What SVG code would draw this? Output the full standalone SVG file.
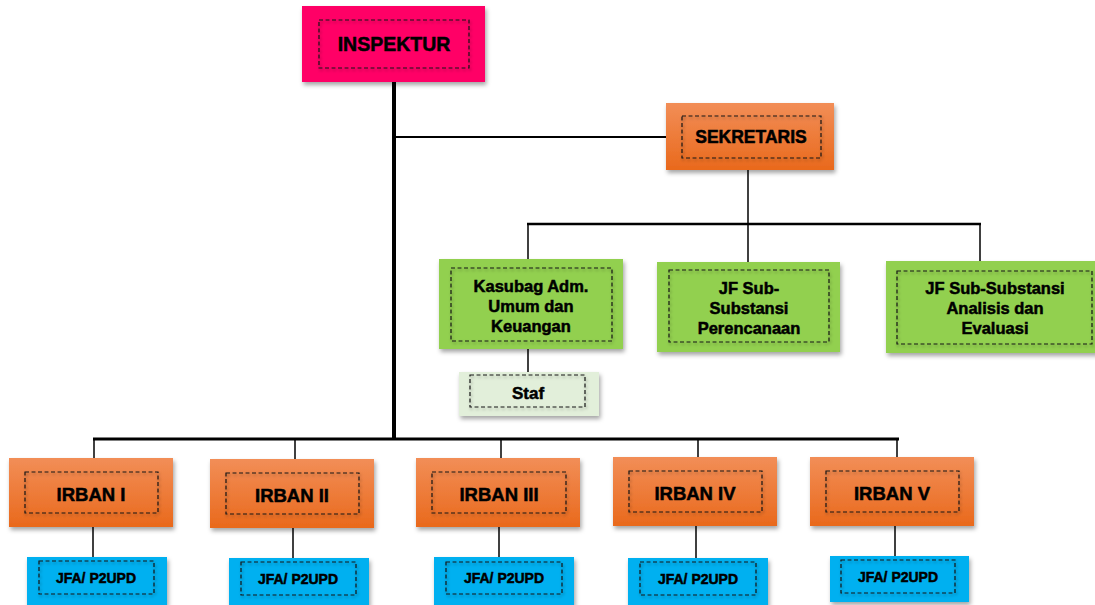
<svg xmlns="http://www.w3.org/2000/svg" width="1095" height="605" viewBox="0 0 1095 605">
<style>
.lbl{font-family:"Liberation Sans",Arial,sans-serif;font-weight:bold;fill:#000;stroke:#000;stroke-width:0.5;text-anchor:middle}
.inner{fill:none;stroke:#1a1a1a;stroke-width:1.2;stroke-dasharray:4 2.5}
.ln{stroke:#000;fill:none}
.pink{fill:#FF0066}
.orange{fill:url(#og)}
.green{fill:#92D050}
.staf{fill:#E2EFDA}
.cyan{fill:#00B0F0}
</style>
<defs>
<linearGradient id="og" x1="0" y1="0" x2="0" y2="1">
<stop offset="0" stop-color="#F28E57"/>
<stop offset="1" stop-color="#E9691C"/>
</linearGradient>
<filter id="sh" x="-10%" y="-10%" width="125%" height="135%">
<feDropShadow dx="1.5" dy="3" stdDeviation="2" flood-color="#000" flood-opacity="0.35"/>
</filter>
<filter id="ish" x="-10%" y="-10%" width="125%" height="135%">
<feDropShadow dx="1" dy="2" stdDeviation="1.5" flood-color="#000" flood-opacity="0.35"/>
</filter>
</defs>
<g id="connectors">
<line class="ln" x1="394" y1="82" x2="394" y2="440" stroke-width="4"/>
<line class="ln" x1="394" y1="137" x2="666" y2="137" stroke-width="2"/>
<line class="ln" x1="748" y1="170" x2="748" y2="224" stroke-width="1.5"/>
<line class="ln" x1="527" y1="224" x2="981" y2="224" stroke-width="2.5"/>
<line class="ln" x1="528" y1="224" x2="528" y2="260" stroke-width="1.5"/>
<line class="ln" x1="748" y1="224" x2="748" y2="262" stroke-width="1.5"/>
<line class="ln" x1="980" y1="224" x2="980" y2="261" stroke-width="1.5"/>
<line class="ln" x1="528" y1="349" x2="528" y2="372" stroke-width="1.5"/>
<line class="ln" x1="93" y1="439" x2="899" y2="439" stroke-width="3"/>
<line class="ln" x1="94" y1="439" x2="94" y2="458" stroke-width="1.5"/>
<line class="ln" x1="295" y1="439" x2="295" y2="459" stroke-width="1.5"/>
<line class="ln" x1="501" y1="439" x2="501" y2="458" stroke-width="1.5"/>
<line class="ln" x1="698" y1="439" x2="698" y2="457" stroke-width="1.5"/>
<line class="ln" x1="897" y1="439" x2="897" y2="457" stroke-width="1.5"/>
<line class="ln" x1="93" y1="527" x2="93" y2="557" stroke-width="1.5"/>
<line class="ln" x1="293" y1="528" x2="293" y2="558" stroke-width="1.5"/>
<line class="ln" x1="499" y1="527" x2="499" y2="557" stroke-width="1.5"/>
<line class="ln" x1="696" y1="526" x2="696" y2="558" stroke-width="1.5"/>
<line class="ln" x1="895" y1="526" x2="895" y2="556" stroke-width="1.5"/>
</g>
<g id="inspektur">
<rect class="pink" x="302" y="6" width="183" height="76" filter="url(#sh)"/>
<rect class="inner" x="319" y="20" width="150" height="48" filter="url(#ish)"/>
<text class="lbl" x="394" y="51" font-size="19.5">INSPEKTUR</text>
</g>
<g id="sekretaris">
<rect class="orange" x="666" y="103" width="168" height="67" filter="url(#sh)"/>
<rect class="inner" x="682" y="116" width="139" height="42" filter="url(#ish)"/>
<text class="lbl" x="751" y="143" font-size="17.5">SEKRETARIS</text>
</g>
<g id="kasubag">
<rect class="green" x="439" y="259" width="184" height="90" filter="url(#sh)"/>
<rect class="inner" x="451" y="268" width="161" height="73" filter="url(#ish)"/>
<text class="lbl" font-size="16.5"><tspan x="531" y="292">Kasubag Adm.</tspan><tspan x="531" y="312">Umum dan</tspan><tspan x="531" y="332">Keuangan</tspan></text>
</g>
<g id="jf-perencanaan">
<rect class="green" x="657" y="262" width="183" height="90" filter="url(#sh)"/>
<rect class="inner" x="669" y="270" width="160" height="72" filter="url(#ish)"/>
<text class="lbl" font-size="16.5"><tspan x="749" y="294">JF Sub-</tspan><tspan x="749" y="314">Substansi</tspan><tspan x="749" y="334">Perencanaan</tspan></text>
</g>
<g id="jf-analisis">
<rect class="green" x="886" y="261" width="212" height="92" filter="url(#sh)"/>
<rect class="inner" x="897" y="271" width="195" height="73" filter="url(#ish)"/>
<text class="lbl" font-size="16.5"><tspan x="995" y="294">JF Sub-Substansi</tspan><tspan x="995" y="314">Analisis dan</tspan><tspan x="995" y="334">Evaluasi</tspan></text>
</g>
<g id="staf">
<rect class="staf" x="459" y="372" width="140" height="44" filter="url(#sh)"/>
<rect class="inner" x="470" y="375" width="115" height="32" filter="url(#ish)"/>
<text class="lbl" x="528" y="399" font-size="17">Staf</text>
</g>
<g id="irban1">
<rect class="orange" x="9" y="458" width="164" height="69" filter="url(#sh)"/>
<rect class="inner" x="25" y="472" width="133" height="41" filter="url(#ish)"/>
<text class="lbl" x="91" y="501" font-size="18.5">IRBAN I</text>
</g>
<g id="irban2">
<rect class="orange" x="210" y="459" width="164" height="69" filter="url(#sh)"/>
<rect class="inner" x="226" y="473" width="133" height="41" filter="url(#ish)"/>
<text class="lbl" x="292" y="502" font-size="18.5">IRBAN II</text>
</g>
<g id="irban3">
<rect class="orange" x="416" y="458" width="164" height="69" filter="url(#sh)"/>
<rect class="inner" x="432" y="472" width="134" height="41" filter="url(#ish)"/>
<text class="lbl" x="499" y="501" font-size="18.5">IRBAN III</text>
</g>
<g id="irban4">
<rect class="orange" x="613" y="457" width="164" height="69" filter="url(#sh)"/>
<rect class="inner" x="629" y="471" width="133" height="41" filter="url(#ish)"/>
<text class="lbl" x="695" y="500" font-size="18.5">IRBAN IV</text>
</g>
<g id="irban5">
<rect class="orange" x="810" y="457" width="164" height="69" filter="url(#sh)"/>
<rect class="inner" x="826" y="471" width="133" height="41" filter="url(#ish)"/>
<text class="lbl" x="892" y="500" font-size="18.5">IRBAN V</text>
</g>
<g id="jfa1">
<rect class="cyan" x="27" y="557" width="140" height="48" filter="url(#sh)"/>
<rect class="inner" x="39" y="561" width="115" height="33" filter="url(#ish)"/>
<text class="lbl" x="96" y="583" font-size="14">JFA/ P2UPD</text>
</g>
<g id="jfa2">
<rect class="cyan" x="229" y="558" width="140" height="48" filter="url(#sh)"/>
<rect class="inner" x="241" y="562" width="115" height="33" filter="url(#ish)"/>
<text class="lbl" x="298" y="584" font-size="14">JFA/ P2UPD</text>
</g>
<g id="jfa3">
<rect class="cyan" x="434" y="557" width="140" height="48" filter="url(#sh)"/>
<rect class="inner" x="446" y="562" width="116" height="32" filter="url(#ish)"/>
<text class="lbl" x="504" y="583" font-size="14">JFA/ P2UPD</text>
</g>
<g id="jfa4">
<rect class="cyan" x="628" y="558" width="140" height="48" filter="url(#sh)"/>
<rect class="inner" x="640" y="562" width="116" height="33" filter="url(#ish)"/>
<text class="lbl" x="698" y="584" font-size="14">JFA/ P2UPD</text>
</g>
<g id="jfa5">
<rect class="cyan" x="830" y="556" width="139" height="46" filter="url(#sh)"/>
<rect class="inner" x="841" y="560" width="114" height="33" filter="url(#ish)"/>
<text class="lbl" x="898" y="582" font-size="14">JFA/ P2UPD</text>
</g>
</svg>
